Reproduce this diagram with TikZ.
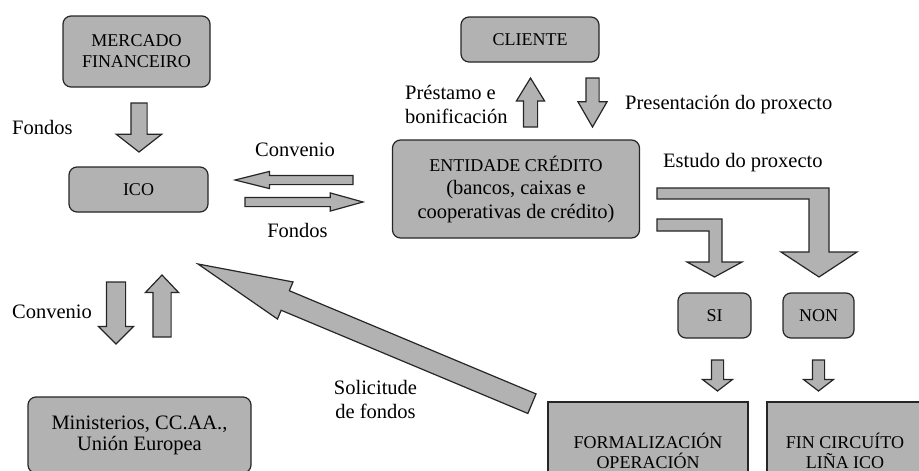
\documentclass[tikz,border=0pt]{standalone}
\usepackage{fontspec}
\setmainfont{Liberation Serif}
\usepackage{tikz}
\usetikzlibrary{shapes.arrows}
\definecolor{gris}{gray}{0.70}
\definecolor{bordo}{gray}{0.15}

\begin{document}
\begin{tikzpicture}[x=1pt,y=-1pt,
    caixa/.style={draw=bordo, fill=gris, line width=1.2pt, rounded corners=8pt, align=center, font=\fontsize{20.5}{23.5}\selectfont},
    maius/.style={font=\fontsize{18}{21}\selectfont},
    recta/.style={rounded corners=0pt},
    etiqueta/.style={align=center, inner sep=0pt, font=\fontsize{20.5}{24}\selectfont},
    frecha/.style n args={4}{single arrow, draw=bordo, fill=gris, line width=1.2pt, anchor=tip, outer sep=0pt,
      single arrow head extend=#2, inner sep=#3, minimum height=#1, minimum width=0pt, single arrow tip angle=#4},
    dobrada/.style={draw=bordo, fill=gris, line width=1.2pt}]
     \useasboundingbox (0,0) rectangle (919,471);
     \clip (0,0) rectangle (919,471);
     % caixas
     \node[caixa, maius, minimum width=147pt, minimum height=71pt] (mercado) at (136.5,51.5) {MERCADO\\FINANCEIRO};
     \node[caixa, maius, minimum width=139pt, minimum height=45pt] (ico) at (138.5,189.5) {ICO};
     \node[caixa, maius, minimum width=138pt, minimum height=45pt] (cliente) at (530,39.5) {CLIENTE};
     \node[caixa, minimum width=247pt, minimum height=98pt] (entidade) at (516,189) {{\fontsize{18}{21}\selectfont ENTIDADE CRÉDITO}\\(bancos, caixas e\\cooperativas de crédito)};
     \node[caixa, maius, minimum width=73pt, minimum height=45pt] (si) at (714.5,315.5) {SI};
     \node[caixa, maius, minimum width=71pt, minimum height=45pt] (non) at (818.5,315.5) {NON};
     \node[caixa, font=\fontsize{20.5}{21}\selectfont, minimum width=223pt, minimum height=76pt] (ministerios) at (139.5,435) {Ministerios, CC.AA.,\\Unión Europea};
     \node[caixa, maius, recta, font=\fontsize{18}{20}\selectfont, minimum width=200pt, minimum height=98pt] (formalizacion) at (648,451) {FORMALIZACIÓN\\OPERACIÓN};
     \node[caixa, maius, recta, font=\fontsize{18}{20}\selectfont, minimum width=156pt, minimum height=98pt] (fin) at (845,451) {FIN CIRCUÍTO\\LIÑA ICO};
     % textos
     \node[etiqueta, anchor=west] (l_fondos1) at (12,127) {Fondos};
     \node[etiqueta] (l_convenio1) at (295,150) {Convenio};
     \node[etiqueta] (l_fondos2) at (297.5,230) {Fondos};
     \node[etiqueta, anchor=west, align=left] (l_prestamo) at (405,104.5) {Préstamo e\\bonificación};
     \node[etiqueta, anchor=west] (l_presentacion) at (625,105) {Presentación do proxecto};
     \node[etiqueta, anchor=west] (l_estudo) at (663,163) {Estudo do proxecto};
     \node[etiqueta, anchor=west] (l_convenio2) at (12,312) {Convenio};
     \node[etiqueta] (l_solicitude) at (375.5,399) {Solicitude\\de fondos};
     % frechas
     \node[frecha={49pt}{14.5pt}{7.5pt}{104}, rotate=-90] (f_fondos) at (139,152) {};
     \node[frecha={118pt}{4pt}{4pt}{28}, rotate=180] (f_convenio) at (235,180) {};
     \node[frecha={118pt}{4.5pt}{4pt}{31}] (f_fondos2) at (363,202) {};
     \node[frecha={49pt}{7pt}{6.5pt}{63}, rotate=90] (f_prestamo) at (530.5,78) {};
     \node[frecha={49pt}{8pt}{6pt}{60}, rotate=-90] (f_presentacion) at (592.5,127) {};
     \node[frecha={62pt}{8pt}{9pt}{90}, rotate=-90] (f_convbaixa) at (116,344) {};
     \node[frecha={62pt}{7.5pt}{8.5pt}{87}, rotate=90] (f_convsube) at (162,275) {};
     \node[frecha={362pt}{9.5pt}{10pt}{24}, rotate=157.3] (f_solicitude) at (198,264) {};
     \node[frecha={31pt}{9pt}{5.5pt}{105}, rotate=-90] (f_si) at (717.5,391) {};
     \node[frecha={31pt}{9pt}{5.5pt}{105}, rotate=-90] (f_non) at (818.5,391) {};
     % estudo do proxecto
     \draw[dobrada] (657,188) -- (829,188) -- (829,252) -- (857,252) -- (819,277) -- (781,252)
       -- (809,252) -- (809,199) -- (657,199) -- cycle;
     \draw[dobrada] (657,219) -- (722,219) -- (722,262) -- (742,262) -- (714.5,277) -- (687,262)
       -- (709,262) -- (709,231) -- (657,231) -- cycle;
\end{tikzpicture}
\end{document}
